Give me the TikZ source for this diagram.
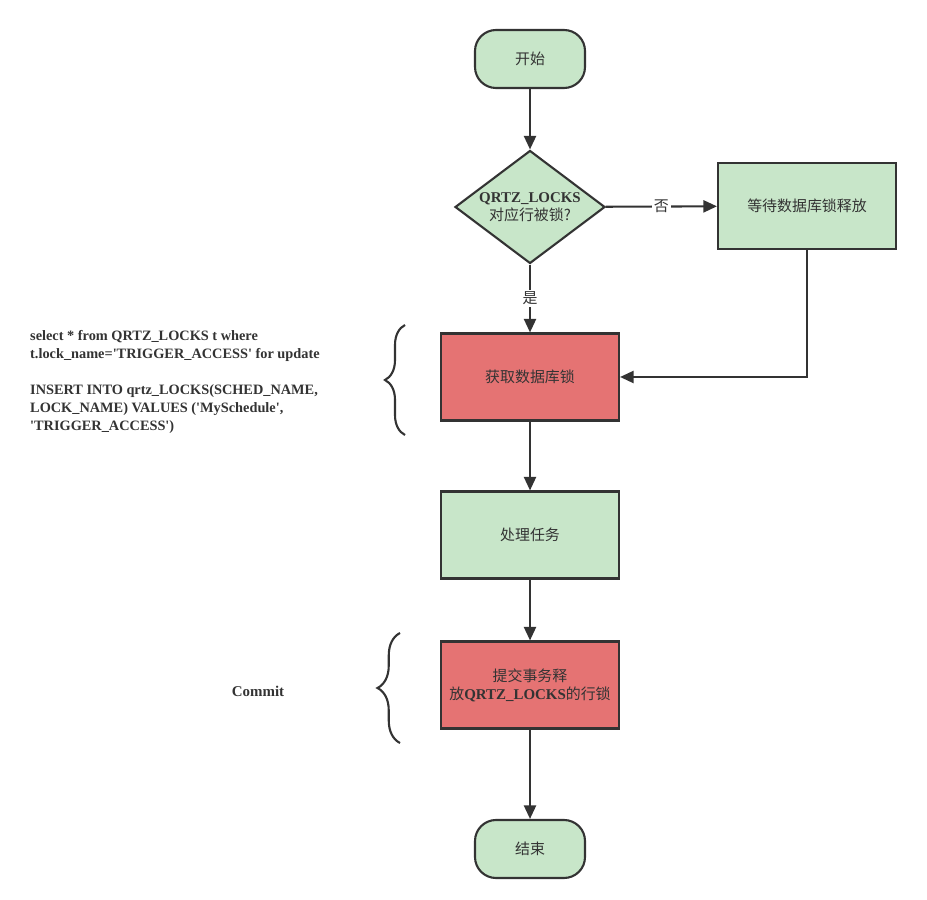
\documentclass[tikz,border=0pt]{standalone}
\usepackage{fontspec}
\setmainfont{Liberation Serif}
\newfontfamily\cjk{Noto Sans CJK SC}
\usetikzlibrary{shapes.geometric,arrows.meta,decorations.pathreplacing}
\definecolor{boxgreen}{HTML}{C8E6C9}
\definecolor{boxred}{HTML}{E57373}
\definecolor{inkgray}{HTML}{333333}
\newcommand{\zh}[1]{{\cjk\mdseries #1}}
\newcommand{\sq}{\textquotesingle}

\begin{document}
\begin{tikzpicture}[
  font=\fontsize{8.5}{10.2}\selectfont\bfseries,
  every node/.append style={text=inkgray},
  flowbox/.style={draw=inkgray,line width=1.2pt,minimum width=3.56cm,minimum height=1.74cm,align=center},
  terminal/.style={draw=inkgray,line width=1.2pt,fill=boxgreen,rounded corners=0.42cm,minimum width=2.2cm,minimum height=1.16cm},
  decision/.style={diamond,draw=inkgray,line width=1.2pt,fill=boxgreen,aspect=1.33,inner sep=0pt,minimum width=3cm,minimum height=2.26cm,align=center},
  link/.style={draw=inkgray,line width=1.2pt,-{Triangle[length=0.27cm,width=0.24cm]}},
  sidebrace/.style={draw=inkgray,line width=1.2pt,decorate,decoration={brace,amplitude=0.4cm}},
  branch/.style={fill=white,inner sep=1pt}
]
  % canvas: 927x899 px at 50 px per cm
  \fill[white] (0,0) rectangle (18.54,17.98);
  \useasboundingbox (0,0) rectangle (18.54,17.98);

  % main column at x=10.6
  \node[terminal] (start) at (10.6,16.8) {\zh{开始}};
  \node[decision] (check) at (10.6,13.84) {QRTZ\_LOCKS\\\zh{对应行被锁?}};
  \node[flowbox,fill=boxgreen,minimum height=1.72cm] (wait) at (16.14,13.86) {\zh{等待数据库锁释放}};
  \node[flowbox,fill=boxred] (lock) at (10.6,10.44) {\zh{获取数据库锁}};
  \node[flowbox,fill=boxgreen] (task) at (10.6,7.28) {\zh{处理任务}};
  \node[flowbox,fill=boxred] (commit) at (10.6,4.28) {\zh{提交事务释}\\\zh{放}QRTZ\_LOCKS\zh{的行锁}};
  \node[terminal] (finish) at (10.6,1.0) {\zh{结束}};

  % connectors
  \draw[link] (start) -- (check);
  \draw[link] (check) -- node[branch] {\zh{否}} (wait);
  \draw[link] (check) -- node[branch] {\zh{是}} (lock);
  \draw[link] (wait.south) |- (lock.east);
  \draw[link] (lock) -- (task);
  \draw[link] (task) -- (commit);
  \draw[link] (commit) -- (finish);

  % side notes with braces
  \coordinate (lockbot) at (8.1,9.28);
  \coordinate (locktop) at (8.1,11.48);
  \draw[sidebrace] (lockbot) -- (locktop);
  \node[anchor=west,align=left,font=\fontsize{8.15}{10.2}\selectfont\bfseries] (sqltext) at (0.48,10.34)
    {select * from QRTZ\_LOCKS t where\\
     t.lock\_name=\sq TRIGGER\_ACCESS\sq{} for update\\[10.2pt]
     INSERT INTO qrtz\_LOCKS(SCHED\_NAME,\\
     LOCK\_NAME) VALUES (\sq MySchedule\sq,\\
     \sq TRIGGER\_ACCESS\sq)};

  \coordinate (commitbot) at (8.0,3.12);
  \coordinate (committop) at (8.0,5.32);
  \draw[sidebrace,decoration={amplitude=0.45cm}] (commitbot) -- (committop);
  \node (committext) at (5.16,4.16) {Commit};
\end{tikzpicture}
\end{document}
